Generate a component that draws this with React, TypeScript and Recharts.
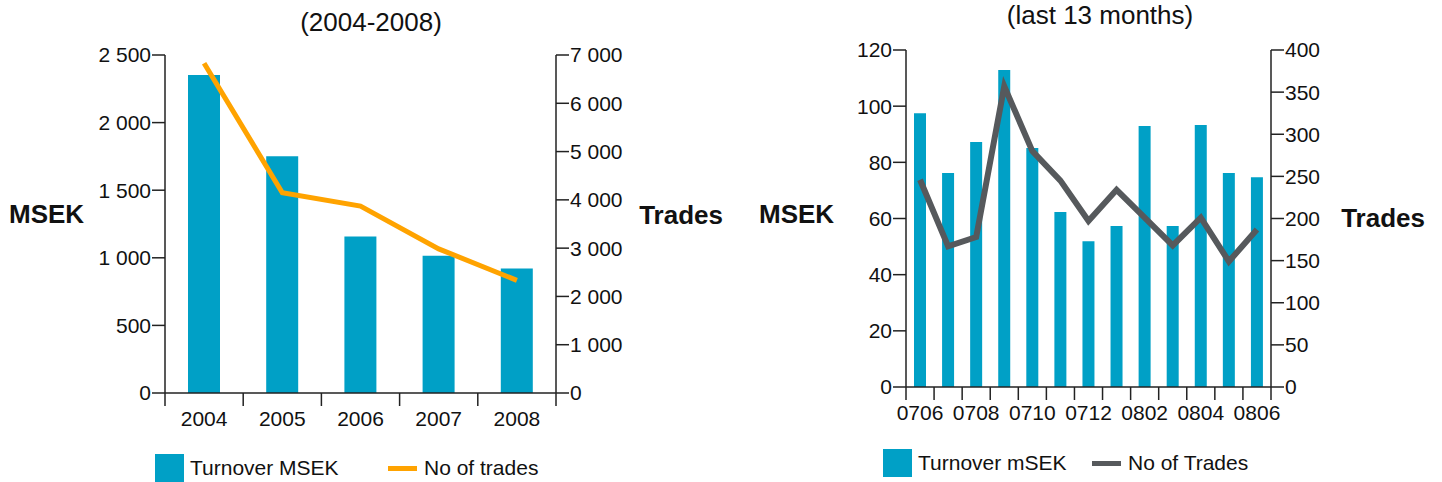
import React from 'react';
import { ComposedChart, Bar, Line, XAxis, YAxis } from 'recharts';

// yearly chart (2004-2008)
const years = ['2004', '2005', '2006', '2007', '2008'];
const turnoverYear = [2352, 1751, 1157, 1016, 920];
const tradesYear = [6828, 4148, 3870, 2985, 2333];
const yearTurnoverTicks = [0, 500, 1000, 1500, 2000, 2500];
const yearTradesTicks = [0, 1000, 2000, 3000, 4000, 5000, 6000, 7000];

// monthly chart (last 13 months)
const months = ['0706', '0707', '0708', '0709', '0710', '0711', '0712', '0801', '0802', '0803', '0804', '0805', '0806'];
const turnoverMonth = [97.5, 76.2, 87.2, 112.9, 85.1, 62.3, 51.9, 57.3, 92.9, 57.3, 93.3, 76.2, 74.7];
const tradesMonth = [246, 167, 178, 357, 280, 245, 197, 234, 201, 168, 201, 149, 187];
const monthTurnoverTicks = [0, 20, 40, 60, 80, 100, 120];
const monthTradesTicks = [0, 50, 100, 150, 200, 250, 300, 350, 400];

const yearData = years.map((year, i) => ({ year, turnover: turnoverYear[i], trades: tradesYear[i] }));
const monthData = months.map((month, i) => ({ month, turnover: turnoverMonth[i], trades: tradesMonth[i] }));

const FONT = '"Liberation Sans", Arial, Helvetica, sans-serif';
const BLUE = '#00A0C6';
const ORANGE = '#FFA300';
const GREY = '#56595C';
const AXIS = '#222';
const TEXT = '#111';

const TICK_LEN = 13;
const TICK_GAP = 5;

const spaced = (v: number) => String(v).replace(/\B(?=(\d{3})+(?!\d))/g, ' ');

// x tick: tick marks on the category boundaries, label in the middle
const makeBoundaryTick = (count: number, every: number) => (props: any) => {
  const { x, y, payload, index } = props;
  const half = payload?.offset ?? 0;
  const axisY = y - TICK_LEN - TICK_GAP;
  return (
    <g>
      <line x1={x - half} x2={x - half} y1={axisY} y2={axisY + TICK_LEN} stroke={AXIS} strokeWidth={1.5} />
      {index === count - 1 && (
        <line x1={x + half} x2={x + half} y1={axisY} y2={axisY + TICK_LEN} stroke={AXIS} strokeWidth={1.5} />
      )}
      {index % every === 0 && (
        <text x={x} y={y} dy="0.71em" textAnchor="middle" fontSize={21} fill={TEXT} fontFamily={FONT}>
          {payload.value}
        </text>
      )}
    </g>
  );
};

const tickStyle = { fontSize: 21, fill: TEXT, fontFamily: FONT };
const axisLabel = { fontSize: 26, fontWeight: 700, fill: TEXT, fontFamily: FONT };

const Title = ({ text, x, y }: { text: string; x: number; y: number }) => (
  <div
    style={{
      position: 'absolute',
      left: x,
      top: y,
      transform: 'translate(-50%, -50%)',
      fontSize: 26,
      fontFamily: FONT,
      color: TEXT,
      whiteSpace: 'nowrap',
      lineHeight: '30px',
    }}
  >
    {text}
  </div>
);

const LegendItem = ({ x, y, kind, color, label }: { x: number; y: number; kind: 'box' | 'line'; color: string; label: string }) => (
  <div
    style={{
      position: 'absolute',
      left: x,
      top: y,
      transform: 'translateY(-50%)',
      display: 'flex',
      alignItems: 'center',
      fontSize: 21,
      fontFamily: FONT,
      color: TEXT,
      whiteSpace: 'nowrap',
      lineHeight: '28px',
    }}
  >
    {kind === 'box' ? (
      <span style={{ display: 'inline-block', width: 29, height: 28, background: color, marginRight: 6 }} />
    ) : (
      <span style={{ display: 'inline-block', width: 29, height: 5, background: color, marginRight: 7 }} />
    )}
    <span>{label}</span>
  </div>
);

export default function App() {
  return (
    <div style={{ position: 'absolute', left: 0, top: 0, width: 1442, height: 482, background: '#fff' }}>
      <div style={{ position: 'absolute', left: 0, top: 0 }}>
        <ComposedChart width={740} height={482} data={yearData} margin={{ top: 55, right: 0, bottom: 59, left: 0 }}>
          <XAxis
            dataKey="year"
            height={30}
            interval={0}
            tickLine={false}
            tickSize={TICK_LEN}
            tickMargin={TICK_GAP}
            axisLine={{ stroke: AXIS, strokeWidth: 1.5 }}
            tick={makeBoundaryTick(years.length, 1)}
          />
          <YAxis
            yAxisId="left"
            width={165}
            domain={[0, 2500]}
            ticks={yearTurnoverTicks}
            tickFormatter={spaced}
            tickSize={TICK_LEN}
            tickMargin={1}
            tick={tickStyle}
            axisLine={{ stroke: AXIS, strokeWidth: 1.5 }}
            tickLine={{ stroke: AXIS, strokeWidth: 1.5 }}
            label={{ value: 'MSEK', position: 'insideLeft', offset: 9, dy: -10, style: axisLabel }}
          />
          <YAxis
            yAxisId="right"
            orientation="right"
            width={184}
            domain={[0, 7000]}
            ticks={yearTradesTicks}
            tickFormatter={spaced}
            tickSize={TICK_LEN}
            tickMargin={1}
            tick={tickStyle}
            axisLine={{ stroke: AXIS, strokeWidth: 1.5 }}
            tickLine={{ stroke: AXIS, strokeWidth: 1.5 }}
            label={{ value: 'Trades', position: 'insideRight', offset: 17, dy: -9, style: axisLabel }}
          />
          <Bar yAxisId="left" dataKey="turnover" name="Turnover MSEK" fill={BLUE} barSize={32} isAnimationActive={false} />
          <Line
            yAxisId="right"
            dataKey="trades"
            name="No of trades"
            stroke={ORANGE}
            strokeWidth={5}
            dot={false}
            activeDot={false}
            isAnimationActive={false}
          />
        </ComposedChart>
      </div>

      <div style={{ position: 'absolute', left: 740, top: 0 }}>
        <ComposedChart width={702} height={482} data={monthData} margin={{ top: 50, right: 0, bottom: 65, left: 0 }}>
          <XAxis
            dataKey="month"
            height={30}
            interval={0}
            tickLine={false}
            tickSize={TICK_LEN}
            tickMargin={TICK_GAP}
            axisLine={{ stroke: AXIS, strokeWidth: 1.5 }}
            tick={makeBoundaryTick(months.length, 2)}
          />
          <YAxis
            yAxisId="left"
            width={166}
            domain={[0, 120]}
            ticks={monthTurnoverTicks}
            tickSize={TICK_LEN}
            tickMargin={1}
            tick={tickStyle}
            axisLine={{ stroke: AXIS, strokeWidth: 1.5 }}
            tickLine={{ stroke: AXIS, strokeWidth: 1.5 }}
            label={{ value: 'MSEK', position: 'insideLeft', offset: 19, dy: -5, style: axisLabel }}
          />
          <YAxis
            yAxisId="right"
            orientation="right"
            width={171}
            domain={[0, 400]}
            ticks={monthTradesTicks}
            tickSize={TICK_LEN}
            tickMargin={1}
            tick={tickStyle}
            axisLine={{ stroke: AXIS, strokeWidth: 1.5 }}
            tickLine={{ stroke: AXIS, strokeWidth: 1.5 }}
            label={{ value: 'Trades', position: 'insideRight', offset: 17, dy: -1, style: axisLabel }}
          />
          <Bar yAxisId="left" dataKey="turnover" name="Turnover mSEK" fill={BLUE} barSize={12} isAnimationActive={false} />
          <Line
            yAxisId="right"
            dataKey="trades"
            name="No of Trades"
            stroke={GREY}
            strokeWidth={6}
            dot={false}
            activeDot={false}
            isAnimationActive={false}
          />
        </ComposedChart>
      </div>

      <Title text="(2004-2008)" x={371} y={22} />
      <Title text="(last 13 months)" x={1100} y={15} />

      <LegendItem x={155} y={468} kind="box" color={BLUE} label="Turnover MSEK" />
      <LegendItem x={388} y={468} kind="line" color={ORANGE} label="No of trades" />
      <LegendItem x={883} y={463} kind="box" color={BLUE} label="Turnover mSEK" />
      <LegendItem x={1092} y={463} kind="line" color={GREY} label="No of Trades" />
    </div>
  );
}
